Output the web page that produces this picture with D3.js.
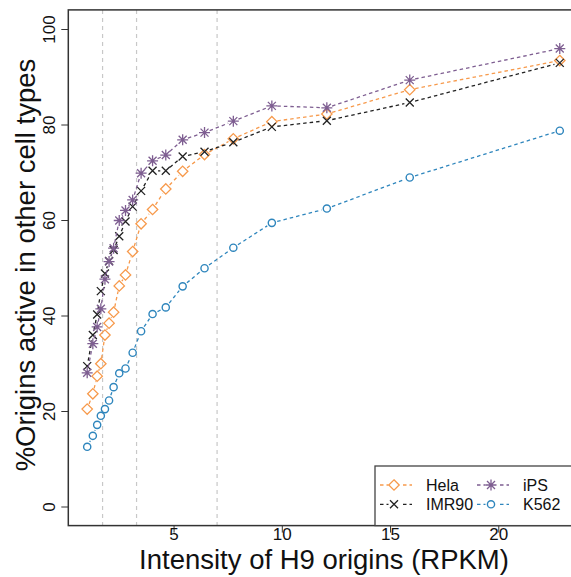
<!DOCTYPE html>
<head>
<meta charset="UTF-8">
<script src="https://d3js.org/d3.v7.min.js"></script>
<style>
  body { margin: 0; background: #fff; }
  svg { display: block; font-family: "Liberation Sans", Arial, Helvetica, sans-serif; }
  .tick line { stroke: #333; }
  .tick text { fill: #111; font-size: 17px; }
</style>
</head>
<body>
<div id="chart"></div>
<script>
  // H9 origin intensity bins (RPKM)
  var intensity = [1.01, 1.27, 1.47, 1.64, 1.83, 2.02, 2.23, 2.49, 2.78, 3.11,
                   3.50, 4.03, 4.64, 5.42, 6.43, 7.76, 9.54, 12.08, 15.91, 22.84];

  var hela  = [20.4, 23.6, 27.3, 29.9, 35.9, 38.4, 40.7, 46.2, 48.5, 53.4,
               59.2, 62.2, 66.5, 70.2, 73.7, 77.0, 80.6, 82.2, 87.3, 93.4];
  var imr90 = [29.4, 35.9, 40.2, 45.1, 48.8, 51.4, 53.7, 56.6, 59.7, 62.8,
               66.1, 70.3, 70.3, 73.3, 74.3, 76.3, 79.5, 80.8, 84.6, 92.9];
  var ips   = [28.0, 34.1, 37.6, 41.4, 47.6, 51.3, 54.1, 59.9, 62.0, 64.2,
               69.8, 72.4, 73.6, 76.8, 78.3, 80.7, 83.9, 83.5, 89.3, 95.9];
  var k562  = [12.5, 14.8, 17.1, 19.0, 20.4, 22.2, 25.0, 27.9, 28.9, 32.2,
               36.7, 40.3, 41.7, 46.1, 49.9, 54.2, 59.4, 62.4, 68.9, 78.7];

  var cutoffs = [1.72, 3.29, 7.01];
  var xTicks = [5, 10, 15, 20];
  var yTicks = [0, 20, 40, 60, 80, 100];

  var series = [
    {name: "Hela",  values: hela,  color: "#f79a4c", shape: "diamond"},
    {name: "IMR90", values: imr90, color: "#222222", shape: "cross"},
    {name: "iPS",   values: ips,   color: "#7e5e91", shape: "star"},
    {name: "K562",  values: k562,  color: "#2f86bd", shape: "circle"}
  ];

  var width = 571, height = 577;

  var x = d3.scaleLinear().domain([0.137, 23.71]).range([68.3, 578.6]);
  var y = d3.scaleLinear().domain([-4, 104]).range([525.6, 9.9]);

  var svg = d3.select("#chart").append("svg")
      .attr("width", width)
      .attr("height", height);

  svg.append("defs").append("clipPath").attr("id", "plotclip")
    .append("rect")
      .attr("x", x.range()[0]).attr("y", y.range()[1])
      .attr("width", x.range()[1] - x.range()[0])
      .attr("height", y.range()[0] - y.range()[1]);

  var plot = svg.append("g").attr("clip-path", "url(#plotclip)");

  // vertical cutoff lines
  plot.selectAll(".cut")
      .data(cutoffs)
    .enter().append("line")
      .attr("x1", function(d) { return x(d); })
      .attr("x2", function(d) { return x(d); })
      .attr("y1", y.range()[1])
      .attr("y2", y.range()[0])
      .attr("stroke", "#c8c8c8")
      .attr("stroke-width", 1.2)
      .attr("stroke-dasharray", "4,4");

  function marker(g, shape, color) {
    if (shape == "diamond") {
      g.append("path").attr("d", "M0,-5.2L5.2,0L0,5.2L-5.2,0Z")
        .attr("fill", "none").attr("stroke", color).attr("stroke-width", 1.3);
    } else if (shape == "circle") {
      g.append("circle").attr("r", 3.6)
        .attr("fill", "none").attr("stroke", color).attr("stroke-width", 1.4);
    } else if (shape == "cross") {
      g.append("path").attr("d", "M-4,-4L4,4M-4,4L4,-4")
        .attr("stroke", color).attr("stroke-width", 1.3);
    } else {
      g.append("path").attr("d", "M-4,-4L4,4M-4,4L4,-4M0,-5.5L0,5.5M-5.5,0L5.5,0")
        .attr("stroke", color).attr("stroke-width", 1.3);
    }
  }

  // type="b": dashed segments with a gap round each point
  var gap = 5.5;
  series.forEach(function(s) {
    var pts = s.values.map(function(v, i) { return [x(intensity[i]), y(v)]; });
    var g = plot.append("g");
    for (var i = 0; i < pts.length - 1; i++) {
      var dx = pts[i + 1][0] - pts[i][0], dy = pts[i + 1][1] - pts[i][1];
      var len = Math.sqrt(dx * dx + dy * dy);
      if (len <= 2 * gap) continue;
      var ux = dx / len, uy = dy / len;
      g.append("line")
        .attr("x1", pts[i][0] + ux * gap).attr("y1", pts[i][1] + uy * gap)
        .attr("x2", pts[i + 1][0] - ux * gap).attr("y2", pts[i + 1][1] - uy * gap)
        .attr("stroke", s.color)
        .attr("stroke-width", 1.3)
        .attr("stroke-dasharray", "3.5,3");
    }
    pts.forEach(function(p) {
      var m = g.append("g").attr("transform", "translate(" + p[0] + "," + p[1] + ")");
      marker(m, s.shape, s.color);
    });
  });

  // axes
  var xAxis = svg.append("g")
      .attr("transform", "translate(0," + y.range()[0] + ")")
      .call(d3.axisBottom(x).tickValues(xTicks).tickSize(7).tickFormat(d3.format("d")));
  xAxis.select(".domain").remove();
  xAxis.selectAll("text").attr("y", 14.5).attr("dy", 0);

  var yAxis = svg.append("g")
      .attr("transform", "translate(" + x.range()[0] + ",0)")
      .call(d3.axisLeft(y).tickValues(yTicks).tickSize(7).tickFormat(d3.format("d")));
  yAxis.select(".domain").remove();
  yAxis.selectAll("text")
      .attr("transform", "rotate(-90)")
      .attr("x", 0)
      .attr("y", -13)
      .attr("dy", 0)
      .attr("text-anchor", "middle");

  // plot box
  svg.append("rect")
      .attr("x", x.range()[0]).attr("y", y.range()[1])
      .attr("width", x.range()[1] - x.range()[0])
      .attr("height", y.range()[0] - y.range()[1])
      .attr("fill", "none")
      .attr("stroke", "#333")
      .attr("stroke-width", 1.5);

  // axis titles
  svg.append("text")
      .attr("x", 324)
      .attr("y", 569)
      .attr("text-anchor", "middle")
      .style("font-size", "27.5px")
      .attr("fill", "#111")
      .text("Intensity of H9 origins (RPKM)");

  svg.append("text")
      .attr("transform", "translate(35,265) rotate(-90)")
      .attr("text-anchor", "middle")
      .style("font-size", "27.5px")
      .attr("fill", "#111")
      .text("%Origins active in other cell types");

  // legend
  var legend = svg.append("g");
  legend.append("rect")
      .attr("x", 375).attr("y", 466)
      .attr("width", 240).attr("height", y.range()[0] - 466)
      .attr("fill", "#fff")
      .attr("stroke", "#444")
      .attr("stroke-width", 1.3);

  var legendPos = [[380, 485], [380, 504.3], [477, 485], [477, 504.3]];
  series.forEach(function(s, i) {
    var lx = legendPos[i][0], ly = legendPos[i][1];
    var item = legend.append("g").attr("transform", "translate(" + lx + "," + ly + ")");
    item.append("line").attr("x1", 0).attr("x2", 8.5).attr("y1", 0).attr("y2", 0)
      .attr("stroke", s.color).attr("stroke-width", 1.3).attr("stroke-dasharray", "3.5,3");
    item.append("line").attr("x1", 23).attr("x2", 32).attr("y1", 0).attr("y2", 0)
      .attr("stroke", s.color).attr("stroke-width", 1.3).attr("stroke-dasharray", "3.5,3");
    marker(item.append("g").attr("transform", "translate(14,0)"), s.shape, s.color);
    item.append("text")
      .attr("x", 46).attr("y", 5.8)
      .style("font-size", "16px")
      .attr("fill", "#111")
      .text(s.name);
  });
</script>
</body>
